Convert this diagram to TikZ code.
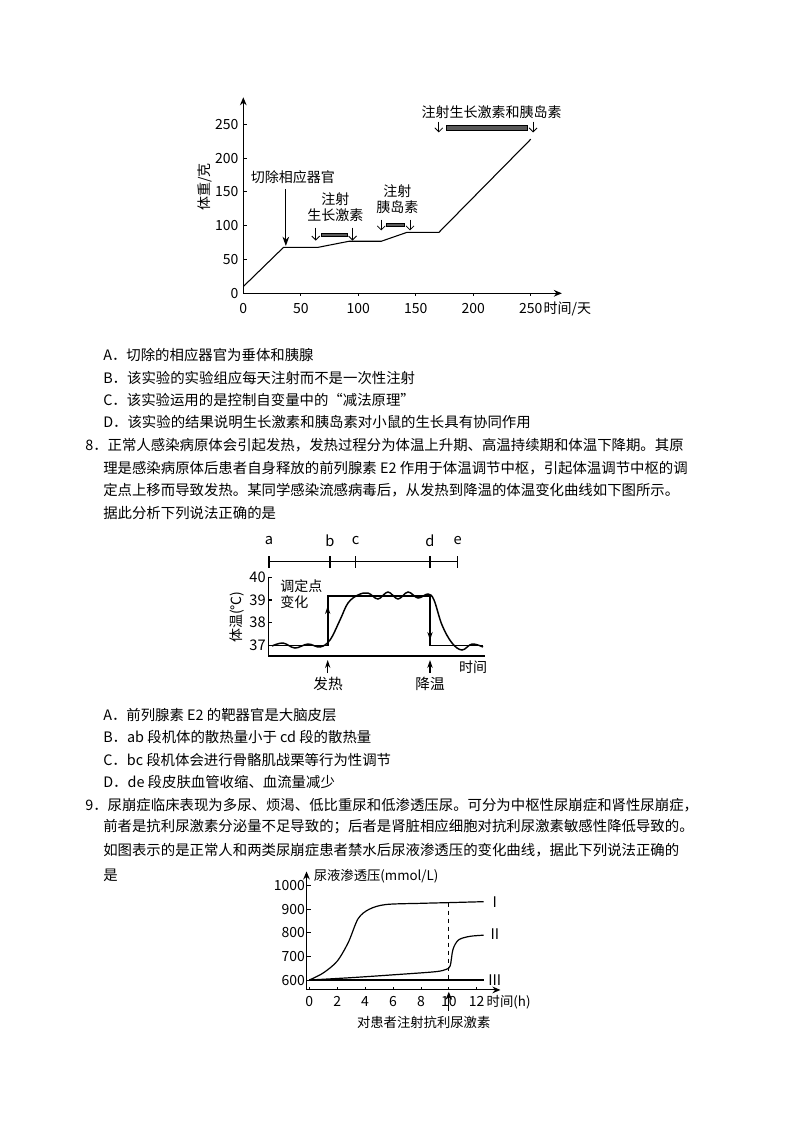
\documentclass[tikz,border=0pt]{standalone}
\usepackage{fontspec}
\setmainfont{Noto Sans CJK SC}
\usetikzlibrary{arrows.meta}
\begin{document}
\begin{tikzpicture}[x=0.75pt,y=-0.75pt,
  body/.style={anchor=west,inner sep=0pt,font=\fontsize{10.8pt}{12pt}\selectfont},
  lab/.style={inner sep=0pt,font=\fontsize{10.5pt}{12pt}\selectfont},
  ax/.style={line width=1pt,-{Stealth[length=6pt,width=5pt]}},
  sar/.style={line width=0.6pt,-{Straight Barb[length=3pt]}},
  bar/.style={fill=gray!70!black,draw=black,line width=0.3pt}]
\useasboundingbox (0,0) rectangle (800,1132);
% ---------- chart 1 ----------
\begin{scope}[xshift=243.3*0.75pt,yshift=-293.3*0.75pt,x=1.15*0.75pt,y=0.676*0.75pt]
\coordinate (o1) at (0,0);
\coordinate (xe1) at (277,0);
\coordinate (ye1) at (0,290);
\draw[ax] (o1) -- (xe1);
\draw[ax] (o1) -- (ye1);
\foreach \v in {0,50,...,250}{
  \draw[line width=0.8pt] (0,\v) -- (3,\v);
  \node[lab,anchor=east] (yl\v) at (-4,\v) {\v};}
\foreach \v in {50,100,...,250}{\draw[line width=0.8pt] (\v,0) -- (\v,-4);}
\foreach \v in {0,50,...,250}{\node[lab] (xl\v) at (\v,-23) {\v};}
\node[lab,anchor=west] (xt1) at (261,-23) {时间/天};
\node[lab,rotate=90] (yt1) at (-33,157) {体重/克};
\draw[line width=0.8pt] (0,10) -- (35,68) -- (65,68) -- (92,77) -- (120,77) -- (142,90) -- (170,90) -- (250,228);
\node[lab,anchor=south] (t1) at (43,162) {切除相应器官};
\draw[line width=0.9pt,-{Stealth[length=7pt,width=5pt]}] (37,154) -- (37,70);
\node[lab,align=center] (t2) at (80,127) {注射\\生长激素};
\draw[sar] (63,97) -- (63,78);
\draw[sar] (95,97) -- (95,78);
\draw[bar] (68,84) rectangle (90,89);
\node[lab,align=center] (t3) at (134,140) {注射\\胰岛素};
\draw[sar] (120,109) -- (120,93);
\draw[sar] (145,109) -- (145,93);
\draw[bar] (124,99) rectangle (140,103);
\node[lab] (t4) at (216,268) {注射生长激素和胰岛素};
\draw[sar] (170,254) -- (170,238);
\draw[sar] (252,254) -- (252,238);
\draw[bar] (176,248) rectangle (247,242);
\end{scope}
% ---------- text ----------
\node[body] (a7) at (103,355) {A．切除的相应器官为垂体和胰腺};
\node[body] (b7) at (103,378) {B．该实验的实验组应每天注射而不是一次性注射};
\node[body] (c7) at (103,400) {C．该实验运用的是控制自变量中的“减法原理”};
\node[body] (d7) at (103,422) {D．该实验的结果说明生长激素和胰岛素对小鼠的生长具有协同作用};
\node[body] (q8a) at (85,445) {8．正常人感染病原体会引起发热，发热过程分为体温上升期、高温持续期和体温下降期。其原};
\node[body] (q8b) at (103,468) {理是感染病原体后患者自身释放的前列腺素 E2 作用于体温调节中枢，引起体温调节中枢的调};
\node[body] (q8c) at (103,490) {定点上移而导致发热。某同学感染流感病毒后，从发热到降温的体温变化曲线如下图所示。};
\node[body] (q8d) at (103,513) {据此分析下列说法正确的是};
% ---------- chart 2 ----------
\coordinate (ta) at (269,561.7); \coordinate (te) at (457.7,561.7);
\draw[line width=0.8pt] (ta) -- (te);
\foreach \n/\xx in {a/269,b/330,c/355.7,d/430,e/457.7}{
  \draw[line width=0.8pt] (\xx,556) -- (\xx,568);
  \node[lab,font=\fontsize{11pt}{12pt}\selectfont] (l\n) at (\xx,541) {\n};}
\draw[line width=1.2pt] (268.3,576.7) -- (268.3,656) -- (485,656);
\foreach \v/\yy in {40/577.3,39/600,38/622.7,37/645.3}{
  \draw[line width=0.8pt] (268.3,\yy) -- (272,\yy);
  \node[lab,anchor=east,font=\fontsize{11pt}{12pt}\selectfont] (t\v) at (266,\yy) {\v};}
\node[lab,rotate=90] (yt2) at (237,617) {体温(℃)};
\node[lab,align=left,anchor=north west] (tdd) at (280,579) {调定点\\变化};
\draw[line width=1.2pt] (268.3,645.3) -- (327.7,645.3) -- (327.7,596) -- (430,596) -- (430,645.3) -- (483,645.3);
\draw[line width=1pt,-{Stealth[length=6pt,width=4pt]}] (430,600) -- (430,640);
\draw[line width=1pt,-{Stealth[length=6pt,width=4pt]}] (327.7,640) -- (327.7,606);
\draw[line width=1.1pt] plot[smooth,tension=0.6] coordinates {(272,646) (283,643) (295,648) (308,644) (320,647) (330,640) (340,620) (348,603) (358,595) (368,593) (378,599) (388,592) (398,599) (408,592) (418,598) (428,594) (434,600) (442,625) (452,643) (462,650) (472,644) (483,647)};
\node[lab] (sj2) at (473,667) {时间};
\coordinate (fr) at (327.7,660); \coordinate (jw) at (430,660);
\draw[line width=0.9pt,-{Stealth[length=6pt,width=4pt]}] (327.7,673) -- (fr);
\draw[line width=0.9pt,-{Stealth[length=6pt,width=4pt]}] (430,673) -- (jw);
\node[lab,font=\fontsize{11pt}{12pt}\selectfont] (frt) at (328,684) {发热};
\node[lab,font=\fontsize{11pt}{12pt}\selectfont] (jwt) at (430,684) {降温};
% ---------- text ----------
\node[body] (a8) at (103,715) {A．前列腺素 E2 的靶器官是大脑皮层};
\node[body] (b8) at (103,737) {B．ab 段机体的散热量小于 cd 段的散热量};
\node[body] (c8) at (103,760) {C．bc 段机体会进行骨骼肌战栗等行为性调节};
\node[body] (d8) at (103,782) {D．de 段皮肤血管收缩、血流量减少};
\node[body] (q9a) at (85,805) {9．尿崩症临床表现为多尿、烦渴、低比重尿和低渗透压尿。可分为中枢性尿崩症和肾性尿崩症，};
\node[body] (q9b) at (103,827) {前者是抗利尿激素分泌量不足导致的；后者是肾脏相应细胞对抗利尿激素敏感性降低导致的。};
\node[body] (q9c) at (103,850) {如图表示的是正常人和两类尿崩症患者禁水后尿液渗透压的变化曲线，据此下列说法正确的};
\node[body] (q9d) at (103,875) {是};
% ---------- chart 3 ----------
\begin{scope}[xshift=309.3*0.75pt,yshift=-1121.6*0.75pt,x=13.95*0.75pt,y=0.236*0.75pt]
\coordinate (o3) at (-0.2,558);
\coordinate (xe3) at (13.7,558);
\coordinate (ye3) at (-0.2,1060);
\draw[line width=0.8pt,-{Stealth[length=6pt,width=5pt]}] (o3) -- (xe3);
\draw[line width=0.8pt,-{Stealth[length=6pt,width=5pt]}] (o3) -- (ye3);
\foreach \v in {600,700,...,1000}{
  \draw[line width=0.6pt] (-0.2,\v) -- (0.1,\v);
  \node[lab,anchor=east,font=\fontsize{10.5pt}{12pt}\selectfont] (y3\v) at (-0.3,\v) {\v};}
\foreach \v in {0,2,...,12}{
  \draw[line width=0.6pt] (\v,558) -- (\v,570);
  \node[lab,font=\fontsize{10.5pt}{12pt}\selectfont] (x3\v) at (\v,510) {\v};}
\node[lab,anchor=west,font=\fontsize{10pt}{12pt}\selectfont] (yt3) at (0.3,1042) {尿液渗透压(mmol/L)};
\node[lab,anchor=west,font=\fontsize{10pt}{12pt}\selectfont] (xt3) at (12.7,507) {时间(h)};
\draw[line width=0.9pt] plot[smooth,tension=0.5] coordinates {(0,600) (1,630) (2,680) (2.8,760) (3.5,860) (4.3,900) (5.5,920) (8,925) (10,928) (12.5,932)};
\draw[line width=0.9pt] plot[smooth,tension=0.5] coordinates {(0,600) (3,610) (6,622) (9,635) (9.8,645) (10.1,660) (10.3,730) (10.7,770) (11.5,785) (12.5,790)};
\draw[line width=1.2pt] (0,600) -- (12.5,600);
\draw[line width=0.7pt,dashed] (10,928) -- (10,600);
\node[lab,font=\fontsize{11pt}{12pt}\selectfont] (c1) at (13.3,930) {I};
\node[lab,font=\fontsize{11pt}{12pt}\selectfont] (c2) at (13.3,793) {II};
\node[lab,font=\fontsize{11pt}{12pt}\selectfont] (c3) at (13.3,600) {III};
\coordinate (ar) at (10,550);
\node[lab,font=\fontsize{10pt}{12pt}\selectfont] (inj) at (8.2,420) {对患者注射抗利尿激素};
\draw[line width=1pt,-{Stealth[length=6pt,width=5pt]}] (10,470) -- (ar);
\end{scope}
\end{tikzpicture}
\end{document}
